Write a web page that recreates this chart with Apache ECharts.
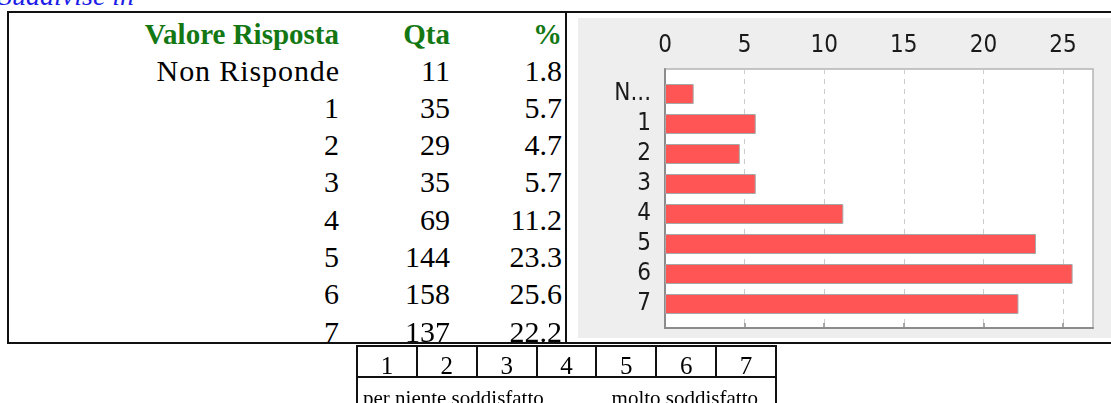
<!DOCTYPE html>
<html lang="it">
<head>
<meta charset="UTF-8">
<title>Suddivise in</title>
<script src="https://cdn.jsdelivr.net/npm/echarts/dist/echarts.min.js"></script>
<style>
    body { margin: 0; background: #ffffff; }
    #page {
        position: relative;
        width: 1111px;
        height: 403px;
        overflow: hidden;
        background: #ffffff;
        font-family: 'Liberation Serif', 'Times New Roman', serif;
    }
    .txt { position: absolute; white-space: nowrap; }
    .ln { position: absolute; background: #111111; z-index: 5; }
    #chart {
        position: absolute;
        left: 578px;
        top: 18px;
        width: 533px;
        height: 320px;
    }
</style>
</head>
<body>
<div id="page">
    <div id="chart"></div>
</div>

<script>
// dati della tabella / grafico
var sectionTitle = 'Suddivise in';
var headers = ['Valore Risposta', 'Qta', '%'];
var categories = ['Non Risponde', '1', '2', '3', '4', '5', '6', '7'];
var qta = [11, 35, 29, 35, 69, 144, 158, 137];
var pct = [1.8, 5.7, 4.7, 5.7, 11.2, 23.3, 25.6, 22.2];
var xTicks = [0, 5, 10, 15, 20, 25];
var scaleSteps = ['1', '2', '3', '4', '5', '6', '7'];
var scaleLow = 'per niente soddisfatto';
var scaleHigh = 'molto soddisfatto';

var page = document.getElementById('page');

// testo posizionato sulla linea di base (Liberation Serif: asc .891, desc .216)
function put(text, x, baseline, size, opt) {
    opt = opt || {};
    var d = document.createElement('div');
    d.className = 'txt';
    d.textContent = text;
    d.style.fontSize = size + 'px';
    d.style.lineHeight = size + 'px';
    d.style.top = (baseline - 0.8375 * size) + 'px';
    if (opt.align === 'right') {
        d.style.right = (1111 - x) + 'px';
    } else if (opt.align === 'center') {
        d.style.left = (x - 50) + 'px';
        d.style.width = '100px';
        d.style.textAlign = 'center';
    } else {
        d.style.left = x + 'px';
    }
    if (opt.color) d.style.color = opt.color;
    if (opt.bold) d.style.fontWeight = 'bold';
    if (opt.italic) d.style.fontStyle = 'italic';
    if (opt.spacing) d.style.letterSpacing = opt.spacing + 'px';
    page.appendChild(d);
}

function line(x, y, w, h) {
    var d = document.createElement('div');
    d.className = 'ln';
    d.style.left = x + 'px';
    d.style.top = y + 'px';
    d.style.width = w + 'px';
    d.style.height = h + 'px';
    page.appendChild(d);
}

put(sectionTitle, -2, 5, 28, { italic: true, color: '#1c1ce8' });

// tabella principale
var colRight = [339, 450, 562];
var green = '#137813';
headers.forEach(function (h, i) {
    put(h, colRight[i], 44, 29, { align: 'right', bold: true, color: green });
});
categories.forEach(function (c, i) {
    var y = 80.7 + 37.3 * i;
    put(c, colRight[0] + (c.length > 2 ? 0.9 : 0), y, 30,
        { align: 'right', color: '#000', spacing: c.length > 2 ? 0.9 : 0 });
    put(String(qta[i]), colRight[1], y, 30, { align: 'right', color: '#000' });
    put(pct[i].toFixed(1), colRight[2], y, 30, { align: 'right', color: '#000' });
});

line(7, 11, 1104, 2);
line(7, 11, 2, 333);
line(7, 342, 1104, 2);
line(565, 11, 2, 333);

// scala 1..7
var cellX0 = 357, cellW = (776 - 357) / scaleSteps.length;
line(cellX0 - 1, 345, 421, 2);
line(cellX0 - 1, 376, 421, 2);
for (var k = 0; k <= scaleSteps.length; k++) {
    var edge = k === 0 || k === scaleSteps.length;
    line(cellX0 + cellW * k - 1, 345, 2, edge ? 60 : 33);
}
scaleSteps.forEach(function (s, i) {
    put(s, cellX0 + cellW * (i + 0.5), 374, 25, { align: 'center', color: '#000' });
});
put(scaleLow, 363, 406, 21, { color: '#000' });
put(scaleHigh, 758, 406, 21, { align: 'right', color: '#000' });

// grafico a barre
var chart = echarts.init(document.getElementById('chart'));
var xMax = Math.max.apply(null, pct) * 1.05;
var labelFont = { fontFamily: 'DejaVu Sans Condensed', fontSize: 24, color: '#1a1a1a' };

var option = {
    backgroundColor: '#eeeeee',
    animation: false,
    grid: [
        { left: 87, right: 18, top: 51, bottom: 10, show: true,
          backgroundColor: '#ffffff', borderColor: '#b4b4b4', borderWidth: 1.5 },
        { left: 87, right: 18, top: 61, bottom: 19 }
    ],
    xAxis: [
        {
            gridIndex: 0, type: 'value', position: 'top', min: 0, max: xMax,
            axisLine: { show: true, lineStyle: { color: '#8c8c8c', width: 2 } },
            axisTick: { show: true, length: 5, customValues: xTicks,
                        lineStyle: { color: '#8c8c8c', width: 1.5 } },
            axisLabel: Object.assign({ margin: 11, customValues: xTicks }, labelFont),
            splitLine: { show: true, lineStyle: { color: '#cccccc', type: [5, 5], width: 1 } }
        },
        { gridIndex: 1, type: 'value', min: 0, max: xMax, show: false }
    ],
    yAxis: [
        {
            gridIndex: 0, type: 'value', min: 0, max: 1,
            axisLine: { show: true, lineStyle: { color: '#8c8c8c', width: 2 } },
            axisTick: { show: false }, axisLabel: { show: false }, splitLine: { show: false }
        },
        {
            gridIndex: 1, type: 'category', data: categories, inverse: true,
            axisLine: { show: false }, axisTick: { show: false },
            axisLabel: Object.assign({
                margin: 14,
                interval: 0,
                hideOverlap: false,
                formatter: function (v) { return v.length > 2 ? v.charAt(0) + '...' : v; }
            }, labelFont)
        }
    ],
    series: [{
        type: 'bar', xAxisIndex: 1, yAxisIndex: 1, data: pct, barWidth: 20,
        itemStyle: { color: '#ff5555', borderColor: '#a8a8a8', borderWidth: 1 }
    }]
};
chart.setOption(option);
</script>
</body>
</html>
